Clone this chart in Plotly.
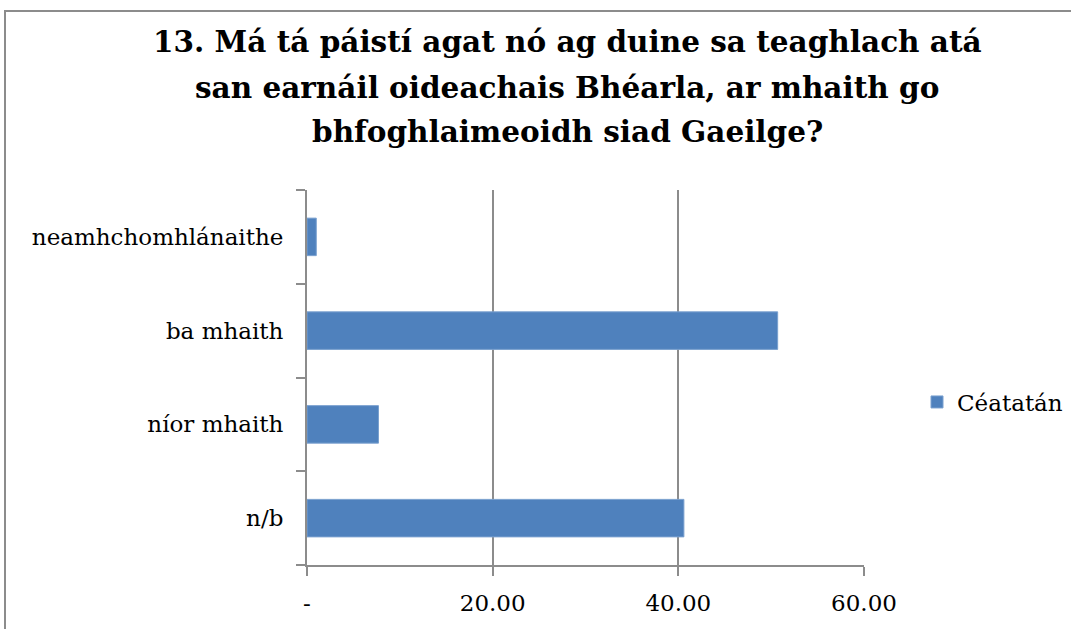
import plotly.graph_objects as go

categories = ["n/b", "níor mhaith", "ba mhaith", "neamhchomhlánaithe"]
values = [40.6, 7.7, 50.7, 1.0]
series_name = "Céatatán"
tick_vals = [0, 20, 40, 60]
tick_text = ["-", "20.00", "40.00", "60.00"]
title_lines = ["13. Má tá páistí agat nó ag duine sa teaghlach atá",
               "san earnáil oideachais Bhéarla, ar mhaith go",
               "bhfoghlaimeoidh siad Gaeilge?"]

W, H = 1071, 629
L, R, T, B = 307, 864, 190, 565

fig = go.Figure()
fig.add_trace(go.Bar(
    x=values, y=categories, orientation="h", name=series_name,
    marker=dict(color="#4F81BD", line=dict(color="#7aa0cf", width=1)),
    width=0.4, showlegend=True,
))

serif = "DejaVu Serif"
annotations = []
for i, line in enumerate(title_lines):
    yc = 42 + 45 * i
    annotations.append(dict(text=line, xref="paper", yref="paper",
                            x=(567 - L) / (R - L), y=(B - yc) / (B - T),
                            xanchor="center", yanchor="middle", showarrow=False,
                            font=dict(family=serif, size=29.5, color="black", weight="bold")))

fig.update_layout(
    width=W, height=H,
    margin=dict(l=L, r=W - R, t=T, b=H - B, pad=0, autoexpand=False),
    paper_bgcolor="white", plot_bgcolor="white",
    annotations=annotations,
    xaxis=dict(range=[0, 60], tickvals=tick_vals, ticktext=tick_text, automargin=False,
               showgrid=True, gridcolor="#8c8c8c", gridwidth=2,
               showline=True, linecolor="#8c8c8c", linewidth=2,
               ticks="outside", ticklen=9, tickcolor="#8c8c8c", tickwidth=2,
               ticklabelstandoff=7,
               zeroline=False, tickfont=dict(family=serif, size=23, color="black")),
    yaxis=dict(categoryorder="array", categoryarray=categories, range=[-0.5, 3.5],
               automargin=False,
               showline=True, linecolor="#8c8c8c", linewidth=2,
               ticks="outside", tickson="boundaries", ticklen=9, tickcolor="#8c8c8c", tickwidth=2,
               ticklabelstandoff=17,
               showgrid=False, tickfont=dict(family=serif, size=23, color="black")),
    legend=dict(xref="container", yref="container", x=917 / W, xanchor="left",
                y=1 - 402 / H, yanchor="middle",
                font=dict(family=serif, size=23, color="black"), bgcolor="rgba(0,0,0,0)"),
    shapes=[dict(type="rect", xref="paper", yref="paper",
                 x0=(5 - L) / (R - L), x1=(1150 - L) / (R - L),
                 y0=(B - 700) / (B - T), y1=(B - 11) / (B - T),
                 line=dict(color="#8c8c8c", width=2), fillcolor="rgba(0,0,0,0)", layer="below")],
)
fig.write_html("out.html", config={"displayModeBar": False},
               post_script="document.body.style.margin='0';")
